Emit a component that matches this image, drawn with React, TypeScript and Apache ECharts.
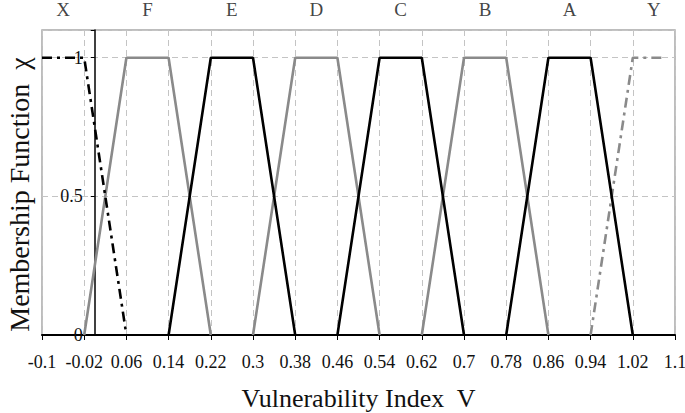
import React, { useEffect, useRef } from "react";
import * as echarts from "echarts";

// Membership function sets (trapezoids), x = vulnerability index, y = membership
const setNames = ["X", "F", "E", "D", "C", "B", "A", "Y"];
const setX: number[][] = [
  [-0.1, -0.02, 0.06],
  [-0.02, 0.06, 0.14, 0.22],
  [0.14, 0.22, 0.3, 0.38],
  [0.3, 0.38, 0.46, 0.54],
  [0.46, 0.54, 0.62, 0.7],
  [0.62, 0.7, 0.78, 0.86],
  [0.78, 0.86, 0.94, 1.02],
  [0.94, 1.02, 1.08],
];
const setY: number[][] = [
  [1, 1, 0],
  [0, 1, 1, 0],
  [0, 1, 1, 0],
  [0, 1, 1, 0],
  [0, 1, 1, 0],
  [0, 1, 1, 0],
  [0, 1, 1, 0],
  [0, 1, 1],
];
const setColors = ["#000000", "#8a8a8a", "#000000", "#8a8a8a", "#000000", "#8a8a8a", "#000000", "#8a8a8a"];
const setDashed = [true, false, false, false, false, false, false, true];
// label positions (centre of each set's plateau)
const labelX = [-0.06, 0.1, 0.26, 0.42, 0.58, 0.74, 0.9, 1.06];

const xMin = -0.1;
const xMax = 1.1;
const xStep = 0.08;
const yMin = 0;
const yMax = 1.1;
const yStep = 0.5;

const FONT = "'Liberation Serif', 'DejaVu Serif', serif";

const W = 685;
const H = 413;
const GRID_LEFT = 42;
const GRID_RIGHT = 10;

export default function App() {
  const ref = useRef<HTMLDivElement>(null);
  useEffect(() => {
    if (!ref.current) return;
    const chart = echarts.init(ref.current, null, { renderer: "svg" });
    // y axis sits at x = 0: offset it inward from the grid's left edge
    const plotW = W - GRID_LEFT - GRID_RIGHT;
    const yAxisOffset = -((0 - xMin) / (xMax - xMin)) * plotW;
    const series: any[] = setNames.map((name, i) => ({
      name,
      type: "line",
      data: setX[i].map((x, j) => [x, setY[i][j]]),
      symbol: "none",
      lineStyle: {
        color: setColors[i],
        width: 2.6,
        type: setDashed[i] ? [10, 5, 3, 5] : "solid",
      },
      z: setColors[i] === "#000000" ? 4 : 3,
    }));
    series.push({
      type: "scatter",
      data: setNames.map((n, i) => ({ value: [labelX[i], yMax], name: n })),
      symbolSize: 0,
      silent: true,
      clip: false,
      label: {
        show: true,
        position: "top",
        distance: 11,
        formatter: (p: any) => p.name,
        fontFamily: FONT,
        fontSize: 19,
        color: "#111",
      },
    });
    chart.setOption({
      animation: false,
      backgroundColor: "#ffffff",
      grid: {
        left: GRID_LEFT,
        right: GRID_RIGHT,
        top: 30,
        bottom: 78,
        outerBoundsMode: "none",
        containLabel: false,
        show: true,
        borderColor: "#a8a8a8",
        borderWidth: 1.5,
      },
      xAxis: {
        type: "value",
        min: xMin,
        max: xMax,
        interval: xStep,
        name: "Vulnerability Index  V",
        nameLocation: "middle",
        nameGap: 50,
        nameTextStyle: { fontFamily: FONT, fontSize: 26, color: "#111" },
        axisLine: { show: true, onZero: false, lineStyle: { color: "#000", width: 2 } },
        axisTick: { show: true, length: 5, lineStyle: { color: "#000", width: 1 } },
        axisLabel: {
          fontFamily: FONT,
          fontSize: 18,
          color: "#111",
          margin: 18,
          showMaxLabel: true,
          hideOverlap: false,
          formatter: (v: number) => String(parseFloat(v.toFixed(2))),
        },
        splitLine: { show: true, lineStyle: { color: "#c4c4c4", type: [6, 4], width: 1 } },
      },
      yAxis: {
        type: "value",
        min: yMin,
        max: yMax,
        interval: yStep,
        offset: yAxisOffset,
        name: "Membership Function  χ",
        nameLocation: "middle",
        nameGap: 61,
        nameTextStyle: { fontFamily: FONT, fontSize: 28, color: "#111", padding: [0, 24, 0, 0] },
        axisLine: { show: true, onZero: false, lineStyle: { color: "#000", width: 1.5 } },
        axisTick: { show: true, length: 4, lineStyle: { color: "#000" } },
        axisLabel: {
          fontFamily: FONT,
          fontSize: 18,
          color: "#111",
          margin: 12,
          formatter: (v: number) => (v > 1.05 ? "" : String(parseFloat(v.toFixed(2)))),
        },
        splitLine: { show: true, lineStyle: { color: "#c4c4c4", type: [6, 4], width: 1 } },
      },
      series,
    });
    return () => chart.dispose();
  }, []);
  return (
    <div
      ref={ref}
      style={{ position: "absolute", left: 0, top: 0, width: W, height: H }}
    />
  );
}
